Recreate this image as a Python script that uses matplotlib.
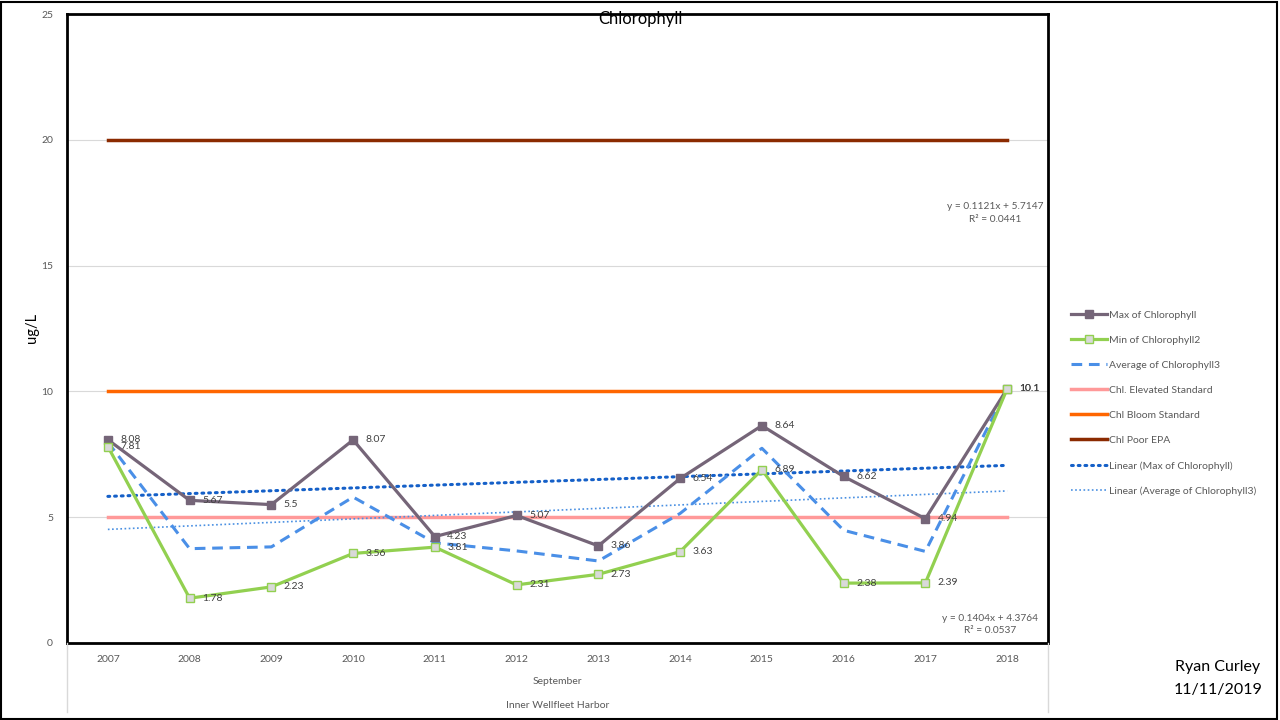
import numpy as np
import matplotlib
matplotlib.use("Agg")
import matplotlib.pyplot as plt
from matplotlib.lines import Line2D
from matplotlib.patches import Rectangle

plt.rcParams['font.family'] = ['Lato', 'DejaVu Sans']

years = ['2007', '2008', '2009', '2010', '2011', '2012',
         '2013', '2014', '2015', '2016', '2017', '2018']
chl_max = [8.08, 5.67, 5.5, 8.07, 4.23, 5.07, 3.86, 6.54, 8.64, 6.62, 4.94, 10.1]
chl_min = [7.81, 1.78, 2.23, 3.56, 3.81, 2.31, 2.73, 3.63, 6.89, 2.38, 2.39, 10.1]
chl_avg = [7.98, 3.75, 3.82, 5.8, 3.98, 3.66, 3.26, 5.15, 7.74, 4.48, 3.64, 10.1]
elevated_std = 5
bloom_std = 10
poor_epa = 20
eq_max = 'y = 0.1121x + 5.7147\nR² = 0.0441'
eq_avg = 'y = 0.1404x + 4.3764\nR² = 0.0537'

W, H = 1280, 720
fig = plt.figure(figsize=(12.8, 7.2), dpi=100)
L, R, T, B = 67, 1048, 14, 643
ax = fig.add_axes([L / W, 1 - B / H, (R - L) / W, (B - T) / H])

x = np.arange(len(years))
xn = x + 1

text_col = '#595959'
lab_col = '#404040'

ax.set_ylim(0, 25)
ax.set_xlim(-0.5, len(years) - 0.5)
ax.set_yticks(np.arange(0, 26, 5))
ax.set_yticklabels([str(v) for v in range(0, 26, 5)], fontsize=7.5, color=text_col)
ax.tick_params(axis='y', length=0, pad=10)
ax.set_xticks(x)
ax.set_xticklabels(years, fontsize=7.5, color=text_col)
ax.tick_params(axis='x', length=0, pad=9)
ax.yaxis.grid(True, color='#D9D9D9', lw=0.8)
ax.set_axisbelow(True)
for s in ax.spines.values():
    s.set_color('black')
    s.set_linewidth(2)

ones = np.ones(len(years))
l_el, = ax.plot(x, elevated_std * ones, color='#FF9999', lw=2.5, label='Chl. Elevated Standard', zorder=2)
l_bl, = ax.plot(x, bloom_std * ones, color='#FF6600', lw=2.5, label='Chl Bloom Standard', zorder=2)
l_po, = ax.plot(x, poor_epa * ones, color='#8B2A00', lw=2.5, label='Chl Poor EPA', zorder=2)

# trendlines
pm = np.polyfit(xn, chl_max, 1)
pa = np.polyfit(xn, chl_avg, 1)
l_tm, = ax.plot(x, np.polyval(pm, xn), color='#1560C8', lw=2.2, linestyle=(0, (0.6, 1.6)),
                dash_capstyle='round', label='Linear (Max of Chlorophyll)', zorder=3)
l_ta, = ax.plot(x, np.polyval(pa, xn), color='#4A90E2', lw=1.2, linestyle=(0, (1, 1.5)),
                label='Linear (Average of Chlorophyll3)', zorder=3)

l_max, = ax.plot(x, chl_max, color='#756578', lw=2.3, marker='s', ms=5.5,
                 mfc='#756578', mec='#756578', label='Max of Chlorophyll', zorder=5)
l_min, = ax.plot(x, chl_min, color='#92D050', lw=2.3, marker='s', ms=5.5,
                 mfc='#D9D9D9', mec='#92D050', mew=1, label='Min of Chlorophyll2', zorder=5)
l_avg, = ax.plot(x, chl_avg, color='#4A8FE7', lw=2.2, linestyle=(0, (3.5, 2.2)),
                 label='Average of Chlorophyll3', zorder=4)

for xi, v in zip(x, chl_max):
    ax.annotate(f'{v:g}', (xi, v), xytext=(9, 0), textcoords='offset points',
                va='center', ha='left', fontsize=7.5, color=lab_col, zorder=6)
for xi, v in zip(x, chl_min):
    ax.annotate(f'{v:g}', (xi, v), xytext=(9, 0), textcoords='offset points',
                va='center', ha='left', fontsize=7.5, color=lab_col, zorder=6)

ax.text(0.995, (B - 213) / (B - T), eq_max, transform=ax.transAxes, ha='right', va='center',
        fontsize=7.3, color=text_col, multialignment='center', linespacing=1.45)
ax.text(0.99, (B - 624.5) / (B - T), eq_avg, transform=ax.transAxes, ha='right', va='center',
        fontsize=7.3, color=text_col, multialignment='center', linespacing=1.45)

# title under the frame line
ax.text(640 / W, 1 - 19 / H, 'Chlorophyll', transform=fig.transFigure, ha='center',
        va='center', fontsize=12, color='black', zorder=1, clip_on=False)
fig.text(32 / W, 1 - 328 / H, 'ug/L', rotation=90, ha='center', va='center',
         fontsize=10.5, color='black')

# category levels below axis
for xp in (L, R):
    fig.add_artist(Line2D([xp / W, xp / W], [1 - B / H, 1 - 712 / H], color='#D9D9D9', lw=1))
fig.text((L + R) / 2 / W, 1 - 681 / H, 'September', ha='center', va='center',
         fontsize=7.5, color=text_col)
fig.text((L + R) / 2 / W, 1 - 705 / H, 'Inner Wellfleet Harbor', ha='center', va='center',
         fontsize=7.5, color=text_col)

fig.text(1218 / W, 1 - 667 / H, 'Ryan Curley', ha='center', va='center', fontsize=11.5)
fig.text(1218 / W, 1 - 690 / H, '11/11/2019', ha='center', va='center', fontsize=11.5)

handles = [l_max, l_min, l_avg, l_el, l_bl, l_po, l_tm, l_ta]
fig.legend(handles=handles, loc='upper left', bbox_to_anchor=(1066 / W, 1 - 305 / H),
           frameon=False, fontsize=7.5, labelspacing=1.52, handlelength=3.4,
           handletextpad=0.2, borderpad=0, labelcolor=text_col)

fig.add_artist(Rectangle((0.5 / W, 1.5 / H), 1 - 4 / W, 1 - 3.5 / H, transform=fig.transFigure,
                         fill=False, ec='black', lw=1.5))

fig.savefig('out.png', dpi=100)
